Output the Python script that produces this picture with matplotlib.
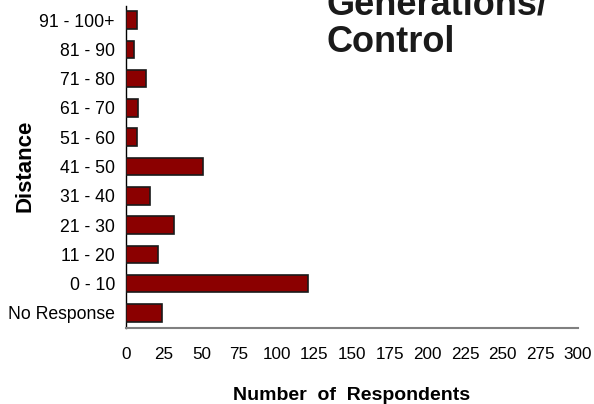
import matplotlib
matplotlib.use("Agg")
import matplotlib.pyplot as plt

categories = ["No Response", "0 - 10", "11 - 20", "21 - 30", "31 - 40", "41 - 50",
              "51 - 60", "61 - 70", "71 - 80", "81 - 90", "91 - 100+"]
values = [24, 121, 21, 32, 16, 51, 7, 8, 13, 5, 7]
xticks = [0, 25, 50, 75, 100, 125, 150, 175, 200, 225, 250, 275, 300]

plt.rcParams['font.family'] = ['Liberation Sans', 'DejaVu Sans']

fig = plt.figure(figsize=(5.94, 4.04), dpi=100)
ax = fig.add_axes([126/594, 1 - 327.5/404, (578-126)/594, (327.5-5.5)/404])

y = list(range(len(categories)))
ax.barh(y, values, height=0.6, color="#8B0000", edgecolor="#1a1a1a", linewidth=1.2, zorder=3)

ax.set_xlim(0, 300)
ax.set_ylim(-0.5, len(categories) - 0.5)
ax.set_yticks(y)
ax.set_yticklabels(categories, fontsize=12.7)
ax.set_xticks(xticks)
ax.set_xticklabels([str(t) for t in xticks], fontsize=12.3)
ax.tick_params(axis='both', length=0)
ax.tick_params(axis='x', pad=14)
ax.tick_params(axis='y', pad=8)

for s in ["top", "right"]:
    ax.spines[s].set_visible(False)
ax.spines["left"].set_color("black")
ax.spines["left"].set_linewidth(1.0)
ax.spines["bottom"].set_color("#808080")
ax.spines["bottom"].set_linewidth(1.5)

fig.text(352/594, 1 - 395/404, "Number  of  Respondents", ha="center", va="center",
         fontsize=14, fontweight="bold")
fig.text(25/594, 1 - 166/404, "Distance", rotation=90, ha="center", va="center",
         fontsize=16, fontweight="bold")
fig.text(327/594, 1 - 52/404, "Generations/\nControl", ha="left", va="baseline",
         fontsize=26, fontweight="bold", color="#1a1a1a", linespacing=1.1)

fig.savefig("out.png", dpi=100)
